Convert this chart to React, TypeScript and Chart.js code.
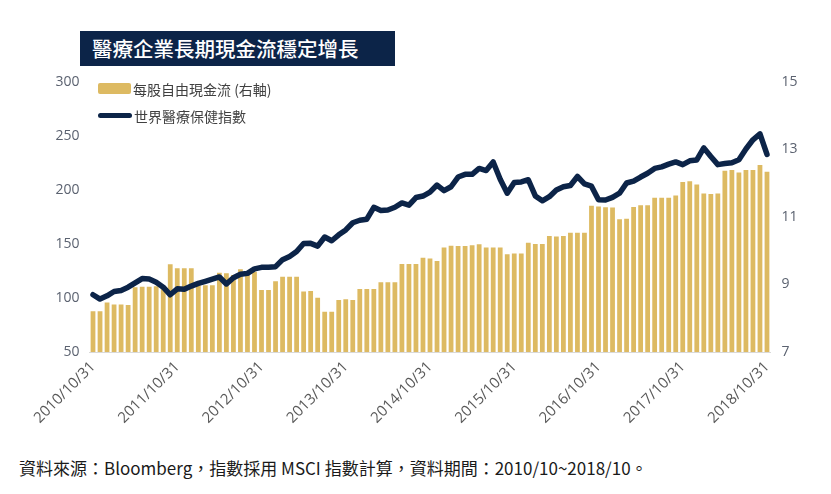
import React, { useEffect, useRef } from "react";
import { Chart, registerables } from "chart.js";

Chart.register(...registerables);

const TITLE = "醫療企業長期現金流穩定增長";
const BAR_LABEL = "每股自由現金流 (右軸)";
const LINE_LABEL = "世界醫療保健指數";
const SOURCE = "資料來源：Bloomberg，指數採用 MSCI 指數計算，資料期間：2010/10~2018/10。";

// monthly categories 2010/10 .. 2018/10
const START_YEAR = 2010;
const START_MONTH = 10;
const MONTH_COUNT = 97;
const categories: string[] = [];
for (let k = 0; k < MONTH_COUNT; k++) {
  const m = START_MONTH - 1 + k;
  const y = START_YEAR + Math.floor(m / 12);
  const mm = (m % 12) + 1;
  categories.push(`${y}/${mm}`);
}

const tickLabels = [
  "2010/10/31", "2011/10/31", "2012/10/31", "2013/10/31", "2014/10/31",
  "2015/10/31", "2016/10/31", "2017/10/31", "2018/10/31",
];

// 每股自由現金流 (right axis)
const fcfPerShare = [
  8.21, 8.21, 8.47, 8.41, 8.41, 8.39, 8.92, 8.93, 8.93, 8.95, 8.95, 9.6,
  9.48, 9.48, 9.48, 8.98, 8.98, 8.98, 9.35, 9.33, 9.28, 9.45, 9.38, 9.38,
  8.84, 8.84, 9.1, 9.23, 9.23, 9.23, 8.79, 8.81, 8.61, 8.19, 8.19, 8.54,
  8.56, 8.54, 8.87, 8.87, 8.87, 9.07, 9.07, 9.07, 9.61, 9.61, 9.61, 9.79,
  9.77, 9.7, 10.1, 10.15, 10.14, 10.14, 10.16, 10.19, 10.1, 10.1, 10.1, 9.9,
  9.92, 9.92, 10.24, 10.2, 10.2, 10.44, 10.42, 10.44, 10.53, 10.53, 10.53, 11.33,
  11.31, 11.29, 11.28, 10.93, 10.95, 11.3, 11.35, 11.35, 11.57, 11.57, 11.57, 11.64,
  12.04, 12.06, 11.96, 11.7, 11.68, 11.7, 12.37, 12.39, 12.32, 12.39, 12.39, 12.54,
  12.34,
];

// 世界醫療保健指數 (left axis)
const healthIndex = [
  103, 99, 102, 106, 107, 110, 114, 118, 117.5, 114.5, 110, 103,
  108.5, 108, 111, 113.5, 115.5, 117.5, 119.5, 113, 118.8, 121.9, 122.8, 127,
  128.4, 128.4, 129, 135.5, 138.5, 143, 150.5, 150.6, 148, 156.5, 153, 158.5,
  163, 169.7, 172, 173, 184, 181, 181.5, 184, 188, 186, 193, 194.4,
  198, 204.6, 199.4, 203, 212, 214.5, 214.5, 220, 218, 226, 210, 197,
  207, 207.5, 209.5, 194.5, 190, 193.8, 200, 203, 204.2, 212.5, 205.6, 203.5,
  191, 190.7, 193.2, 197, 206.5, 208.2, 212, 215.5, 220, 221.4, 223.9, 226,
  223.5, 227, 227.8, 239, 231, 223.5, 224.5, 225.3, 228, 238, 246.5, 252,
  233,
];

const leftTicks = { min: 50, max: 300, step: 50 };
const rightTicks = { min: 7, max: 15, step: 2 };

const GOLD = "#DDBA62";
const NAVY = "#0C2448";
const AXIS_TEXT = "#5B6270";
const LATIN = "'Open Sans', 'Noto Sans', 'Noto Sans CJK TC', sans-serif";
const CJK = "'Noto Sans CJK TC', 'Noto Sans', sans-serif";

export default function App() {
  const ref = useRef<HTMLCanvasElement | null>(null);

  useEffect(() => {
    document.body.style.margin = "0";
    const canvas = ref.current;
    if (!canvas) return;
    const chart = new Chart(canvas, {
      type: "bar",
      data: {
        labels: categories,
        datasets: [
          {
            type: "line",
            label: LINE_LABEL,
            data: healthIndex,
            yAxisID: "y",
            borderColor: NAVY,
            backgroundColor: NAVY,
            borderWidth: 5.5,
            pointRadius: 0,
            tension: 0,
            borderJoinStyle: "round",
            borderCapStyle: "round",
            order: 1,
          } as any,
          {
            type: "bar",
            label: BAR_LABEL,
            data: fcfPerShare,
            yAxisID: "y1",
            backgroundColor: GOLD,
            barPercentage: 0.68,
            categoryPercentage: 1,
            order: 2,
          } as any,
        ],
      },
      options: {
        responsive: false,
        animation: false,
        maintainAspectRatio: false,
        layout: { padding: { top: 82, left: 0, right: 0, bottom: 0 } },
        plugins: {
          legend: { display: false },
          tooltip: { enabled: false },
          title: { display: false },
        },
        scales: {
          x: {
            type: "category",
            grid: { display: false, drawTicks: false },
            border: { display: true, color: "#D9D9D9", width: 1 },
            ticks: {
              autoSkip: false,
              minRotation: 45,
              maxRotation: 45,
              padding: 6,
              color: "#595959",
              font: { family: LATIN, size: 15 },
              callback: (_v: any, idx: number) =>
                idx % 12 === 0 ? tickLabels[idx / 12] : "",
            },
            afterFit: (s: any) => {
              s.height = 93;
            },
          },
          y: {
            position: "left",
            min: leftTicks.min,
            max: leftTicks.max,
            grid: { display: false, drawTicks: false },
            border: { display: false },
            ticks: {
              stepSize: leftTicks.step,
              padding: 10,
              color: AXIS_TEXT,
              font: { family: LATIN, size: 14 },
            },
            afterFit: (s: any) => {
              s.width = 89.5;
            },
          },
          y1: {
            position: "right",
            min: rightTicks.min,
            max: rightTicks.max,
            grid: { display: false, drawTicks: false },
            border: { display: false },
            ticks: {
              stepSize: rightTicks.step,
              padding: 11,
              color: AXIS_TEXT,
              font: { family: LATIN, size: 14 },
            },
            afterFit: (s: any) => {
              s.width = 60.5;
            },
          },
        },
      },
    });
    return () => chart.destroy();
  }, []);

  return (
    <div style={{ position: "relative", width: 831, height: 494, background: "#fff", overflow: "hidden" }}>
      <canvas ref={ref} width={831} height={445} style={{ position: "absolute", left: 0, top: 0, width: 831, height: 445 }} />
      <div
        style={{
          position: "absolute",
          left: 80,
          top: 31,
          width: 315,
          height: 35,
          background: NAVY,
          color: "#fff",
          fontFamily: CJK,
          fontSize: 20.5,
          fontWeight: 500,
          lineHeight: "35px",
          paddingLeft: 12,
          boxSizing: "border-box",
          whiteSpace: "nowrap",
        }}
      >
        {TITLE}
      </div>
      <div style={{ position: "absolute", left: 98, top: 80, fontFamily: CJK, fontSize: 14, color: "#404040" }}>
        <div style={{ display: "flex", alignItems: "center", height: 17 }}>
          <span style={{ display: "inline-block", width: 33, height: 11, background: GOLD, borderRadius: 2, marginRight: 2 }} />
          <span>{BAR_LABEL}</span>
        </div>
        <div style={{ display: "flex", alignItems: "center", height: 17, marginTop: 10 }}>
          <span style={{ display: "inline-block", width: 34, height: 5, background: NAVY, borderRadius: 3, marginRight: 2 }} />
          <span>{LINE_LABEL}</span>
        </div>
      </div>
      <div
        style={{
          position: "absolute",
          left: 19,
          top: 456,
          fontFamily: CJK,
          fontSize: 17,
          color: "#1a1a1a",
          whiteSpace: "nowrap",
          lineHeight: "24px",
        }}
      >
        {SOURCE}
      </div>
    </div>
  );
}
